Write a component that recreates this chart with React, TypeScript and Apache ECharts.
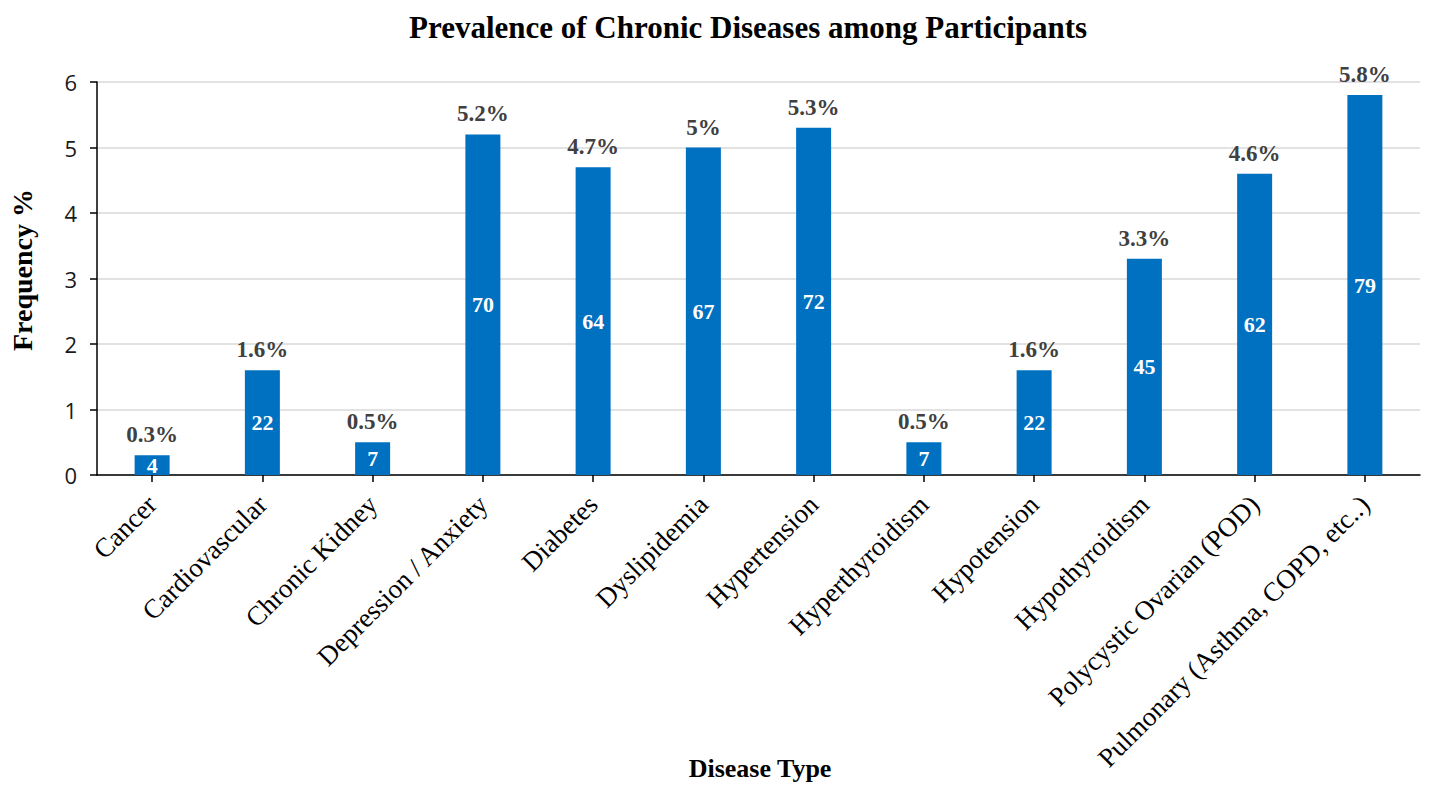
import React, { useEffect, useRef } from "react";
import * as echarts from "echarts";

const diseases = [
  "Cancer",
  "Cardiovascular",
  "Chronic Kidney",
  "Depression / Anxiety",
  "Diabetes",
  "Dyslipidemia",
  "Hypertension",
  "Hyperthyroidism",
  "Hypotension",
  "Hypothyroidism",
  "Polycystic Ovarian (POD)",
  "Pulmonary (Asthma, COPD, etc..)",
];
const frequencyPct = [0.3, 1.6, 0.5, 5.2, 4.7, 5, 5.3, 0.5, 1.6, 3.3, 4.6, 5.8];
const participantCounts = [4, 22, 7, 70, 64, 67, 72, 7, 22, 45, 62, 79];
const yTicks = [0, 1, 2, 3, 4, 5, 6];

const SERIF = "'Liberation Serif', 'Times New Roman', serif";
const SANS = "'Open Sans', 'Liberation Sans', sans-serif";
const BAR_COLOR = "#0070C0";

export default function App() {
  const ref = useRef<HTMLDivElement>(null);

  useEffect(() => {
    if (!ref.current) return;
    const chart = echarts.init(ref.current, null, { renderer: "svg" });
    chart.setOption({
      animation: false,
      backgroundColor: "#ffffff",
      title: {
        text: "Prevalence of Chronic Diseases among Participants",
        left: 404,
        top: 7,
        textStyle: {
          fontFamily: SERIF,
          fontWeight: "bold",
          fontSize: 31,
          color: "#000",
        },
      },
      graphic: [
        {
          type: "text",
          x: 22,
          y: 270,
          rotation: Math.PI / 2,
          style: {
            text: "Frequency %",
            fontFamily: SERIF,
            fontWeight: "bold",
            fontSize: 28,
            fill: "#000",
            align: "center",
            verticalAlign: "middle",
          },
        },
        {
          type: "text",
          x: 760,
          y: 768,
          style: {
            text: "Disease Type",
            fontFamily: SERIF,
            fontWeight: "bold",
            fontSize: 26,
            fill: "#000",
            align: "center",
            verticalAlign: "middle",
          },
        },
      ],
      grid: {
        left: 97,
        right: 9,
        top: 82,
        bottom: 310,
        containLabel: false,
        outerBoundsMode: "none",
      },
      xAxis: {
        type: "category",
        data: diseases,
        axisLine: { show: true, lineStyle: { color: "#000", width: 1.5 } },
        axisTick: {
          show: true,
          alignWithLabel: true,
          length: 7,
          lineStyle: { color: "#000", width: 1.5 },
        },
        axisLabel: {
          interval: 0,
          rotate: 45,
          margin: 25,
          fontFamily: SERIF,
          fontSize: 27,
          color: "#000",
        },
      },
      yAxis: {
        type: "value",
        min: yTicks[0],
        max: yTicks[yTicks.length - 1],
        interval: 1,
        axisLine: { show: true, lineStyle: { color: "#000", width: 1.5 } },
        axisTick: {
          show: true,
          length: 7,
          lineStyle: { color: "#000", width: 1.5 },
        },
        axisLabel: {
          margin: 20,
          fontFamily: SANS,
          fontSize: 22,
          color: "#1a1a1a",
        },
        splitLine: { lineStyle: { color: "#d9d9d9", width: 1.5 } },
      },
      series: [
        {
          type: "bar",
          data: frequencyPct,
          barWidth: 35,
          itemStyle: { color: BAR_COLOR },
          label: {
            show: true,
            position: "inside",
            formatter: (p: any) => String(participantCounts[p.dataIndex]),
            fontFamily: SERIF,
            fontWeight: "bold",
            fontSize: 22,
            color: "#fff",
          },
          z: 2,
        },
        {
          type: "bar",
          data: frequencyPct,
          barWidth: 35,
          barGap: "-100%",
          itemStyle: { color: "rgba(0,0,0,0)" },
          label: {
            show: true,
            position: "top",
            distance: 9,
            formatter: (p: any) => `${p.value}%`,
            fontFamily: SERIF,
            fontWeight: "bold",
            fontSize: 23,
            color: "#404040",
          },
          silent: true,
          z: 3,
        },
      ],
    });
    return () => chart.dispose();
  }, []);

  return (
    <div
      ref={ref}
      style={{ position: "fixed", left: 0, top: 0, width: 1429, height: 785 }}
    />
  );
}
